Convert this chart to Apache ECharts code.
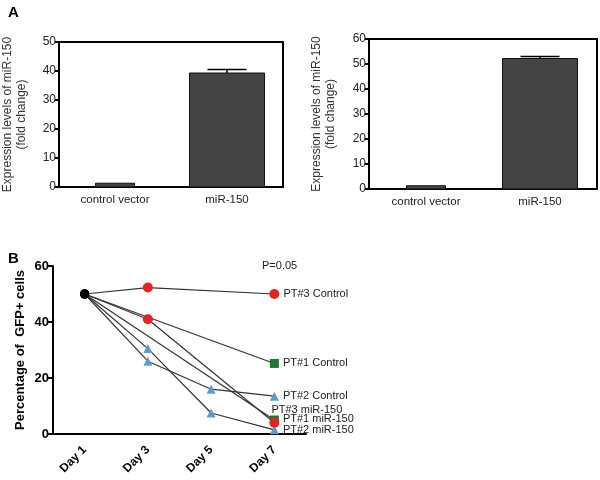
<!DOCTYPE html>
<html>
<head>
<meta charset="utf-8">
<script src="https://cdn.jsdelivr.net/npm/echarts@6/dist/echarts.min.js"></script>
<style>html,body{margin:0;padding:0;background:#fff}#c{width:600px;height:480px}</style>
</head>
<body>
<div id="c"></div>
<script>
// ---- Data ----
var barCategories = ['control vector', 'miR-150'];
var leftBarValues = [1.3, 39.3];
var leftBarErrors = [0, 1.2];
var rightBarValues = [1.3, 52.2];
var rightBarErrors = [0, 0.8];

var days = ['Day 1', 'Day 3', 'Day 5', 'Day 7'];
var pt3Control = [50, 52.3, null, 50];
var pt1Control = [50, null, null, 25.2];
var pt2Control = [50, 26, 16, 13.5];
var pt3Mir = [50, 41, null, 4];
var pt1Mir = [50, null, null, 5];
var pt2Mir = [50, 30.5, 7.5, 1.5];

var leftYTicks = [0, 10, 20, 30, 40, 50];
var rightYTicks = [0, 10, 20, 30, 40, 50, 60];
var lineYTicks = [0, 20, 40, 60];

// ---- Chart ----
var chart = echarts.init(document.getElementById('c'), null, {renderer: 'canvas'});
var FONT = 'Liberation Sans, Arial, sans-serif';

function barRender(widths) {
  return function (params, api) {
    var idx = params.dataIndex;
    var v = api.value(1);
    var p0 = api.coord([api.value(0), 0]);
    var p1 = api.coord([api.value(0), v]);
    var w = widths[idx];
    return {
      type: 'rect',
      shape: {x: p0[0] - w / 2, y: p1[1], width: w, height: p0[1] - p1[1]},
      style: {fill: '#444444', stroke: '#111', lineWidth: 1}
    };
  };
}
function errRender(params, api) {
  var v = api.value(1), e = api.value(2);
  if (!e) return null;
  var p0 = api.coord([api.value(0), v]);
  var p1 = api.coord([api.value(0), v + e]);
  var cw = 39;
  return {
    type: 'group',
    children: [
      {type: 'line', shape: {x1: p0[0], y1: p0[1], x2: p1[0], y2: p1[1]}, style: {stroke: '#000', lineWidth: 1.5}},
      {type: 'line', shape: {x1: p1[0] - cw / 2, y1: p1[1], x2: p1[0] + cw / 2, y2: p1[1]}, style: {stroke: '#000', lineWidth: 1.5}}
    ]
  };
}
function barData(vals, errs) {
  return vals.map(function (v, i) { return [i, v, errs[i]]; });
}

function lineSeries(name, values, symbol, color, size, labelOpt, z) {
  var last = values.length - 1;
  var data = values.map(function (v, i) {
    if (v === null) return null;
    var item = {value: v};
    if (i === 0) {
      item.symbol = 'circle';
      item.symbolSize = 9;
      item.itemStyle = {color: '#000'};
    }
    if (i === last) {
      item.label = Object.assign({
        show: true, position: 'right', distance: 4,
        formatter: name, color: '#222', fontSize: 11, fontFamily: FONT
      }, labelOpt || {});
    }
    return item;
  });
  return {
    type: 'line', name: name, xAxisIndex: 2, yAxisIndex: 2,
    data: data, connectNulls: true,
    symbol: symbol, symbolSize: size, z: z || 2,
    lineStyle: {color: '#333', width: 1.2},
    itemStyle: {color: color},
    emphasis: {disabled: true},
    animation: false
  };
}

var axisLabelA = {color: '#222', fontSize: 12, fontFamily: FONT, margin: 3};

var option = {
  animation: false,
  backgroundColor: '#fff',
  grid: [
    {left: 59, top: 42, width: 224, height: 145, show: true, borderColor: '#000', borderWidth: 2},
    {left: 369, top: 39, width: 228, height: 150, show: true, borderColor: '#000', borderWidth: 2},
    {left: 53, top: 266, width: 253, height: 168}
  ],
  title: [
    {text: 'A', left: 8, top: 5, padding: 0, textStyle: {fontSize: 15, fontWeight: 'bold', color: '#000', fontFamily: FONT}},
    {text: 'B', left: 8, top: 251, padding: 0, textStyle: {fontSize: 15, fontWeight: 'bold', color: '#000', fontFamily: FONT}},
    {text: 'P=0.05', left: 262, top: 260, padding: 0, textStyle: {fontSize: 11, fontWeight: 'normal', color: '#222', fontFamily: FONT}}
  ],
  xAxis: [
    {gridIndex: 0, type: 'category', data: barCategories,
     axisLine: {lineStyle: {color: '#000', width: 2}},
     axisTick: {alignWithLabel: true, length: 4, lineStyle: {color: '#000', width: 2}},
     axisLabel: Object.assign({}, axisLabelA, {margin: 7, fontSize: 11.5})},
    {gridIndex: 1, type: 'category', data: barCategories,
     axisLine: {lineStyle: {color: '#000', width: 2}},
     axisTick: {alignWithLabel: true, length: 4, lineStyle: {color: '#000', width: 2}},
     axisLabel: Object.assign({}, axisLabelA, {margin: 7, fontSize: 11.5})},
    {gridIndex: 2, type: 'category', data: days,
     axisLine: {lineStyle: {color: '#000', width: 2}},
     axisTick: {alignWithLabel: true, length: 5, lineStyle: {color: '#000', width: 2}},
     axisLabel: {color: '#000', fontSize: 12, fontWeight: 'bold', fontFamily: FONT, rotate: 45, margin: 14, interval: 0}}
  ],
  yAxis: [
    {gridIndex: 0, type: 'value', min: 0, max: 50, interval: 10,
     name: 'Expression levels of miR-150\n(fold change)', nameLocation: 'middle', nameGap: 30,
     nameTextStyle: {color: '#333', fontSize: 12, fontFamily: FONT, lineHeight: 14},
     axisLine: {show: true, lineStyle: {color: '#000', width: 2}},
     axisTick: {show: true, length: 4, lineStyle: {color: '#000', width: 2}},
     splitLine: {show: false}, axisLabel: axisLabelA},
    {gridIndex: 1, type: 'value', min: 0, max: 60, interval: 10,
     name: 'Expression levels of miR-150\n(fold change)', nameLocation: 'middle', nameGap: 31,
     nameTextStyle: {color: '#333', fontSize: 12, fontFamily: FONT, lineHeight: 14},
     axisLine: {show: true, lineStyle: {color: '#000', width: 2}},
     axisTick: {show: true, length: 4, lineStyle: {color: '#000', width: 2}},
     splitLine: {show: false}, axisLabel: axisLabelA},
    {gridIndex: 2, type: 'value', min: 0, max: 60, interval: 20,
     name: 'Percentage of  GFP+ cells', nameLocation: 'middle', nameGap: 26,
     nameTextStyle: {color: '#000', fontSize: 13, fontWeight: 'bold', fontFamily: FONT},
     axisLine: {show: true, lineStyle: {color: '#000', width: 2}},
     axisTick: {show: true, length: 5, lineStyle: {color: '#000', width: 2}},
     splitLine: {show: false},
     axisLabel: {color: '#000', fontSize: 13, fontWeight: 'bold', fontFamily: FONT, margin: 4}}
  ],
  series: [
    {type: 'custom', xAxisIndex: 0, yAxisIndex: 0, data: barData(leftBarValues, leftBarErrors),
     renderItem: barRender([39, 75]), encode: {x: 0, y: 1}},
    {type: 'custom', xAxisIndex: 0, yAxisIndex: 0, data: barData(leftBarValues, leftBarErrors),
     renderItem: errRender, encode: {x: 0, y: 1}, z: 3},
    {type: 'custom', xAxisIndex: 1, yAxisIndex: 1, data: barData(rightBarValues, rightBarErrors),
     renderItem: barRender([39, 75]), encode: {x: 0, y: 1}},
    {type: 'custom', xAxisIndex: 1, yAxisIndex: 1, data: barData(rightBarValues, rightBarErrors),
     renderItem: errRender, encode: {x: 0, y: 1}, z: 3},
    lineSeries('PT#3 Control', pt3Control, 'circle', '#e8231c', 10, null, 3),
    lineSeries('PT#1 Control', pt1Control, 'rect', '#1b7a30', 9, null, 3),
    lineSeries('PT#2 Control', pt2Control, 'triangle', '#5b9bd5', 9, null, 3),
    lineSeries('PT#1 miR-150', pt1Mir, 'rect', '#1b7a30', 9, {offset: [0, -1]}, 3),
    lineSeries('PT#3 miR-150', pt3Mir, 'circle', '#e8231c', 10, {offset: [-12, -13], formatter: 'PT#3 miR-150'}, 4),
    lineSeries('PT#2 miR-150', pt2Mir, 'triangle', '#5b9bd5', 9, null, 3)
  ]
};
chart.setOption(option);
</script>
</body>
</html>
